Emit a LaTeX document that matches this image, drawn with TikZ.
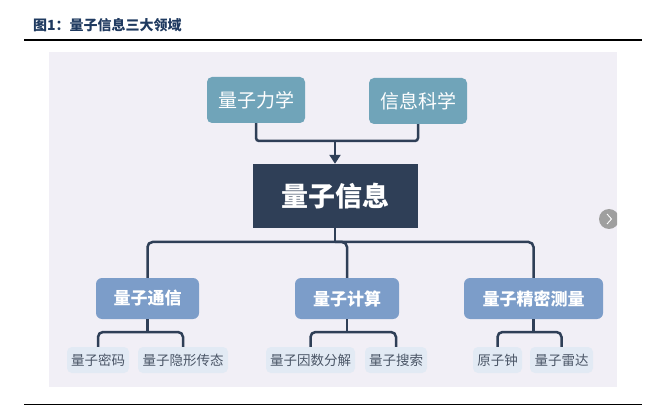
\documentclass[tikz,border=0pt]{standalone}
\usepackage{fontspec}
\newfontfamily\cjk{Noto Sans CJK SC}
\usetikzlibrary{arrows.meta}
\definecolor{panel}{HTML}{F1EFF6}
\definecolor{teal1}{HTML}{70A4B9}
\definecolor{navy}{HTML}{2F3F57}
\definecolor{slate}{HTML}{7C9DC9}
\definecolor{leafbg}{HTML}{E2EAF4}
\definecolor{leaftx}{HTML}{4A5566}
\definecolor{titlec}{HTML}{1F3A60}
\tikzset{
  topbox/.style={fill=teal1,rounded corners=5pt,text=white,font=\cjk\fontsize{19}{19}\selectfont,minimum width=98pt,minimum height=46pt,inner sep=0pt},
  mainbox/.style={fill=navy,text=white,font=\cjk\bfseries\fontsize{27}{27}\selectfont,minimum width=165pt,minimum height=64pt,inner sep=0pt},
  midbox/.style={fill=slate,rounded corners=6pt,text=white,font=\cjk\bfseries\fontsize{17}{17}\selectfont,minimum height=41pt,inner sep=0pt},
  leaf/.style={fill=leafbg,rounded corners=5pt,text=leaftx,font=\cjk\fontsize{13.5}{13.5}\selectfont,minimum height=26pt,inner sep=0pt},
  conn/.style={draw=navy,line width=2.5pt,rounded corners=5pt},
}
\begin{document}
\begin{tikzpicture}[x=1pt,y=-1pt]
\useasboundingbox (0,0) rectangle (672,406);
% title and rules
\node[anchor=west,text=titlec,font=\cjk\bfseries\fontsize{14}{14}\selectfont,inner sep=0pt] (title) at (33,25) {图1：量子信息三大领域};
\draw[line width=2pt] (24,40) -- (642,40);
\draw[line width=1pt] (24,404) -- (642,404);
% panel
\fill[panel] (49,52) rectangle (617,387);
\begin{scope}
\clip (49,52) rectangle (617,387);
\fill[gray!75] (609,219) circle (10);
\draw[white,line width=0.9pt] (607,214) -- (611.5,219) -- (607,224);
\end{scope}
% nodes
\node[topbox] (qm) at (256,100) {量子力学};
\node[topbox] (is) at (418,101) {信息科学};
\node[mainbox] (qi) at (335,196) {量子信息};
\node[midbox,minimum width=103pt] (comm) at (147.5,298.5) {量子通信};
\node[midbox,minimum width=104pt] (comp) at (347,298.5) {量子计算};
\node[midbox,minimum width=139pt] (prec) at (533.5,298.5) {量子精密测量};
\node[leaf,minimum width=62pt] (l1) at (98,360) {量子密码};
\node[leaf,minimum width=90pt] (l2) at (183,360) {量子隐形传态};
\node[leaf,minimum width=89pt] (l3) at (310.5,360) {量子因数分解};
\node[leaf,minimum width=62pt] (l4) at (396,360) {量子搜索};
\node[leaf,minimum width=49pt] (l5) at (497.5,360) {原子钟};
\node[leaf,minimum width=63pt] (l6) at (561.5,360) {量子雷达};
% connectors
\coordinate (j1) at (335,141);
\draw[conn,rounded corners=3pt] (qm.south) |- (j1) -| (is.south);
\draw[draw=navy,line width=2.5pt,-{Triangle[length=9pt,width=11pt]}] (j1) -- (qi.north);
\coordinate (b) at (335,242);
\draw[conn] (qi.south) -- (b);
\draw[conn] (comm.north) |- (b) -| (prec.north);
\draw[conn] (comp.north) |- (b);
\coordinate (k1) at (147.5,332);
\coordinate (k2) at (347,332);
\coordinate (k3) at (533.5,332);
\draw[conn] (comm.south) -- (k1);
\draw[conn] (l1.north) |- (k1) -| (l2.north);
\draw[conn] (comp.south) -- (k2);
\draw[conn] (l3.north) |- (k2) -| (l4.north);
\draw[conn] (prec.south) -- (k3);
\draw[conn] (l5.north) |- (k3) -| (l6.north);
\end{tikzpicture}
\end{document}
